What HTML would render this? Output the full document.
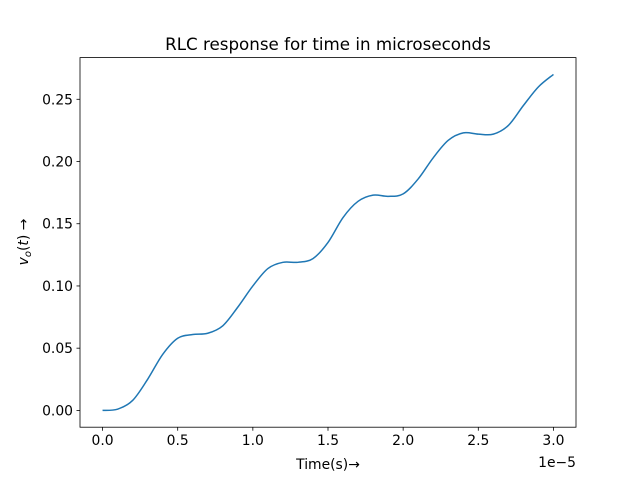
<!DOCTYPE html>
<html><head><meta charset="utf-8"><style>
html,body{margin:0;padding:0;background:#fff;}
svg{display:block;font-family:"DejaVu Sans","Liberation Sans",sans-serif;}
</style></head><body>
<svg id="c" width="640" height="480" xmlns="http://www.w3.org/2000/svg">
<rect width="640" height="480" fill="#fff"/>
<text x="328" y="50" text-anchor="middle" font-size="16.7" fill="#000">RLC response for time in microseconds</text>
<g id="plot"></g>
<text x="328" y="469" text-anchor="middle" font-size="13.9">Time(s)→</text>
<text x="576" y="467" text-anchor="end" font-size="13.9">1e−5</text>
<text transform="translate(28,242) rotate(-90)" text-anchor="middle" font-size="13.9"><tspan font-style="italic">v</tspan><tspan font-style="italic" font-size="10" dy="3">o</tspan><tspan dy="-3">(</tspan><tspan font-style="italic">t</tspan><tspan>) →</tspan></text>
</svg>
<script>
const times = [0,0.1,0.2,0.3,0.4,0.5,0.6,0.7,0.8,0.9,1.0,1.1,1.2,1.3,1.4,1.5,1.6,1.7,1.8,1.9,2.0,2.1,2.2,2.3,2.4,2.5,2.6,2.7,2.8,2.9,3.0];
const voltage = [0,0.001,0.008,0.025,0.045,0.058,0.061,0.062,0.068,0.083,0.100,0.114,0.119,0.119,0.122,0.135,0.155,0.168,0.173,0.172,0.174,0.186,0.203,0.217,0.223,0.222,0.222,0.229,0.245,0.260,0.270];
const xTicks = [0,0.5,1.0,1.5,2.0,2.5,3.0];
const xTickLabels = ["0.0","0.5","1.0","1.5","2.0","2.5","3.0"];
const yTicks = [0,0.05,0.10,0.15,0.20,0.25];
const yTickLabels = ["0.00","0.05","0.10","0.15","0.20","0.25"];

const L=80,R=576,T=57.6,B=427.2;
const xmin=-0.15,xmax=3.15,ymin=-0.0135,ymax=0.2835;
const sx=v=>L+(v-xmin)/(xmax-xmin)*(R-L);
const sy=v=>B-(v-ymin)/(ymax-ymin)*(B-T);
const NS="http://www.w3.org/2000/svg";
const g=document.getElementById('plot');
function mk(t,a){const e=document.createElementNS(NS,t);for(const k in a)e.setAttribute(k,a[k]);g.appendChild(e);return e;}

const pts=times.map((t,i)=>[sx(t),sy(voltage[i])]);
let d=`M${pts[0][0]},${pts[0][1]}`;
for(let i=0;i<pts.length-1;i++){
  const p0=pts[Math.max(0,i-1)],p1=pts[i],p2=pts[i+1],p3=pts[Math.min(pts.length-1,i+2)];
  const c1=[p1[0]+(p2[0]-p0[0])/6,p1[1]+(p2[1]-p0[1])/6];
  const c2=[p2[0]-(p3[0]-p1[0])/6,p2[1]-(p3[1]-p1[1])/6];
  d+=` C${c1[0]},${c1[1]} ${c2[0]},${c2[1]} ${p2[0]},${p2[1]}`;
}
const line=mk('path',{d:d,fill:'none',stroke:'#1f77b4','stroke-width':1.5});



const frame=mk('rect',{x:L,y:T,width:R-L,height:B-T,fill:'none',stroke:'#000','stroke-width':0.8});



xTicks.forEach((v,i)=>{
  const x=sx(v);
  const tk=mk('line',{x1:x,x2:x,y1:B,y2:B+3.5,stroke:'#000','stroke-width':0.8});
  
  
  const tx=mk('text',{x:x,y:B+18,'text-anchor':'middle','font-size':13.9});
  tx.textContent=xTickLabels[i];
  
  
});
yTicks.forEach((v,i)=>{
  const y=sy(v);
  const tk=mk('line',{x1:L-3.5,x2:L,y1:y,y2:y,stroke:'#000','stroke-width':0.8});
  
  
  const tx=mk('text',{x:L-7,y:y+5,'text-anchor':'end','font-size':13.9});
  tx.textContent=yTickLabels[i];
  
  
});
</script>
</body></html>
